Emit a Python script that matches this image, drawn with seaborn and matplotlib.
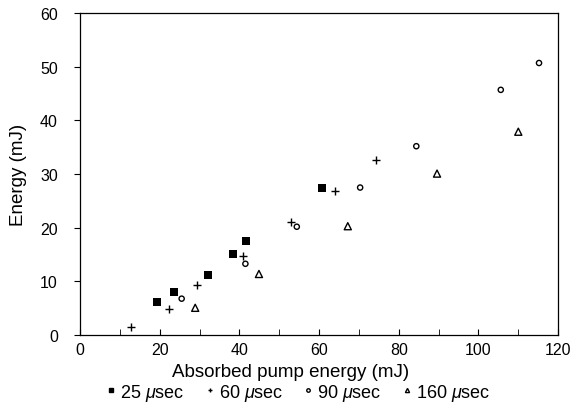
import matplotlib
matplotlib.use("Agg")
import matplotlib.pyplot as plt
import seaborn as sns
import pandas as pd
from matplotlib.ticker import MultipleLocator
from matplotlib.lines import Line2D

sns.set_style("ticks")
plt.rcParams['font.family'] = ['Liberation Sans', 'DejaVu Sans']
plt.rcParams['mathtext.fontset'] = 'custom'
plt.rcParams['mathtext.it'] = 'Liberation Sans:italic'
plt.rcParams['mathtext.rm'] = 'Liberation Sans'
plt.rcParams['text.color'] = 'black'
plt.rcParams['axes.labelcolor'] = 'black'
plt.rcParams['xtick.color'] = 'black'
plt.rcParams['ytick.color'] = 'black'
plt.rcParams['axes.edgecolor'] = 'black'

x_25 = [19.2, 23.7, 32.1, 38.4, 41.6, 60.8]
y_25 = [6.1, 8.0, 11.2, 15.2, 17.6, 27.5]
x_60 = [12.7, 22.3, 29.3, 40.9, 52.9, 63.9, 74.2]
y_60 = [1.5, 4.9, 9.4, 14.7, 21.1, 26.8, 32.7]
x_90 = [25.5, 41.5, 54.4, 70.3, 84.4, 105.6, 115.2]
y_90 = [6.8, 13.3, 20.2, 27.5, 35.2, 45.7, 50.7]
x_160 = [28.9, 44.9, 67.2, 89.6, 110.0]
y_160 = [5.1, 11.4, 20.3, 30.1, 37.9]
labels = ["25 $\\mu$sec", "60 $\\mu$sec", "90 $\\mu$sec", "160 $\\mu$sec"]

series = [(x_25, y_25), (x_60, y_60), (x_90, y_90), (x_160, y_160)]
styles = [dict(marker='s', s=28, color='black', linewidth=0),
          dict(marker='+', s=26, color='black', linewidth=1.0),
          dict(marker='o', s=14, facecolor='none', edgecolor='black', linewidth=1.0),
          dict(marker='^', s=26, facecolor='none', edgecolor='black', linewidth=1.0)]

fig = plt.figure(figsize=(5.76, 4.14), dpi=100)
ax = fig.add_axes([0.139, 0.188, 0.830, 0.778])
for (xs, ys), st in zip(series, styles):
    df = pd.DataFrame({"x": xs, "y": ys})
    sns.scatterplot(data=df, x="x", y="y", ax=ax, legend=False, **st)

ax.set_xlim(0, 120)
ax.set_ylim(0, 60)
ax.xaxis.set_major_locator(MultipleLocator(20))
ax.xaxis.set_minor_locator(MultipleLocator(10))
ax.yaxis.set_major_locator(MultipleLocator(10))
ax.tick_params(axis='x', which='both', direction='in', length=4, labelsize=11.5, pad=5)
ax.tick_params(axis='y', which='both', direction='out', length=4, labelsize=11.5, pad=12)
ax.set_xlabel("Absorbed pump energy (mJ)", fontsize=13.5)
ax.xaxis.set_label_coords(0.44, -0.085)
ax.set_ylabel("Energy (mJ)", fontsize=13.5)
ax.yaxis.set_label_coords(-0.112, 0.5)
for sp in ax.spines.values():
    sp.set_linewidth(0.9)

handles = [Line2D([], [], linestyle='none', marker='s', markersize=3, color='black'),
           Line2D([], [], linestyle='none', marker='+', markersize=3.5, color='black'),
           Line2D([], [], linestyle='none', marker='o', markersize=2.5, markerfacecolor='none', markeredgecolor='black'),
           Line2D([], [], linestyle='none', marker='^', markersize=3, markerfacecolor='none', markeredgecolor='black')]
fig.legend(handles, labels, loc='center', bbox_to_anchor=(0.516, 0.05), ncol=4,
           frameon=False, fontsize=13, handletextpad=0.1, columnspacing=1.0, handlelength=0.8)

fig.savefig("out.png", dpi=100)
